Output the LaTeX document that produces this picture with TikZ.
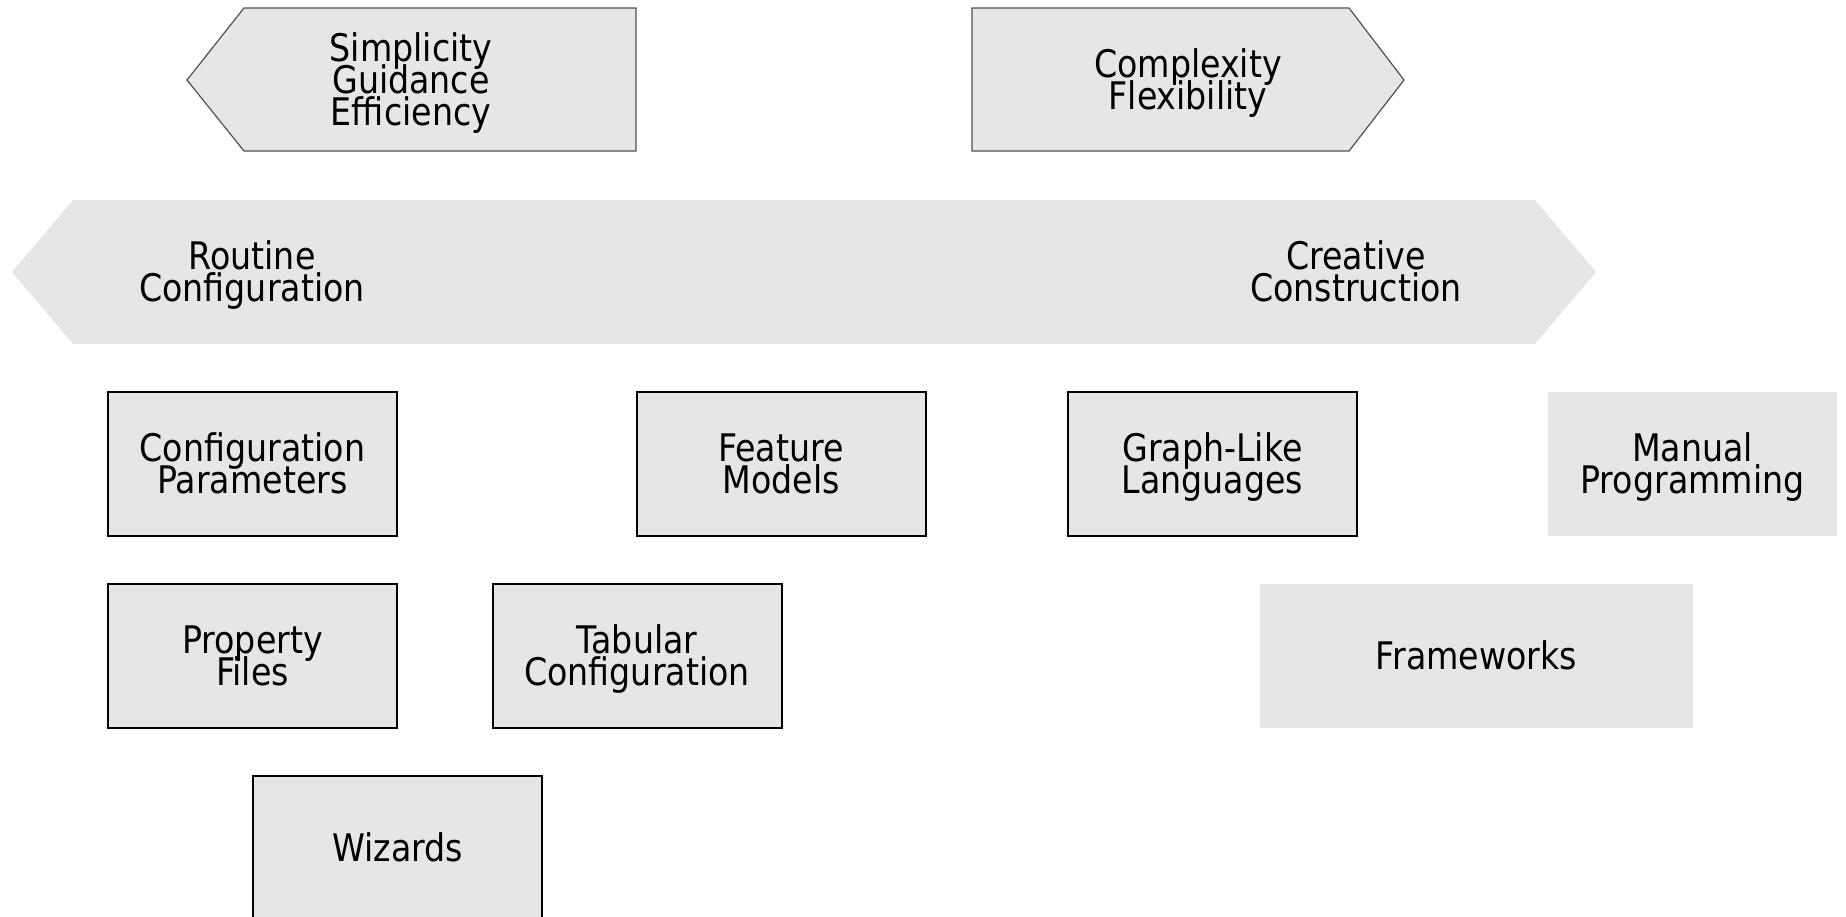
\documentclass[tikz,border=0pt]{standalone}
\usepackage{fontspec}
\setmainfont{DejaVu Sans}[FakeStretch=0.875]
\definecolor{boxgray}{RGB}{230,230,230}
\definecolor{edgegray}{RGB}{80,80,80}
\newcommand\fl[1]{\rule{0pt}{26pt}\smash{#1}}
\newcommand\ol[1]{\smash{#1}}
\begin{document}
\begin{tikzpicture}[x=1pt,y=-1pt,
  lbl/.style={align=center,font=\fontsize{38}{32}\selectfont,inner sep=0pt},
  item/.style={lbl,rectangle,fill=boxgray,minimum width=289pt,minimum height=144pt},
  itembox/.style={item,draw=black,line width=2pt},
  arrowshape/.style={fill=boxgray,draw=edgegray,line width=1.2pt,line join=miter}]
\useasboundingbox (0,0) rectangle (1846,916);
\begin{scope}
\clip (0,0) rectangle (1846,916);
% top pentagons
\draw[arrowshape] (187,80) -- (244,8) -- (636,8) -- (636,151) -- (244,151) -- cycle;
\node[lbl] (simp) at (411,80) {\fl{Simplicity}\\\ol{Guidance}\\\ol{Efficiency}};
\draw[arrowshape] (972,8) -- (1349,8) -- (1404,80) -- (1349,151) -- (972,151) -- cycle;
\node[lbl] (comp) at (1188,80) {\fl{Complexity}\\\ol{Flexibility}};
% big double arrow
\fill[boxgray] (12,272) -- (73,200) -- (1535,200) -- (1596,272) -- (1535,344) -- (73,344) -- cycle;
\node[lbl] (routine) at (252,272) {\fl{Routine}\\\ol{Configuration}};
\node[lbl] (creative) at (1356,272) {\fl{Creative}\\\ol{Construction}};
% boxes
\node[itembox] (cp) at (252.5,464) {\fl{Configuration}\\\ol{Parameters}};
\node[itembox] (fm) at (781,464) {\fl{Feature}\\\ol{Models}};
\node[itembox] (gl) at (1212.5,464) {\fl{Graph-Like}\\\ol{Languages}};
\node[item] (mp) at (1692.5,464) {\fl{Manual}\\\ol{Programming}};
\node[itembox] (pf) at (252.5,656) {\fl{Property}\\\ol{Files}};
\node[itembox] (tc) at (637,656) {\fl{Tabular}\\\ol{Configuration}};
\node[item,minimum width=433pt] (fw) at (1476.5,656) {\fl{Frameworks}};
\node[itembox] (wz) at (397.5,848) {\fl{Wizards}};
\end{scope}
\end{tikzpicture}
\end{document}
